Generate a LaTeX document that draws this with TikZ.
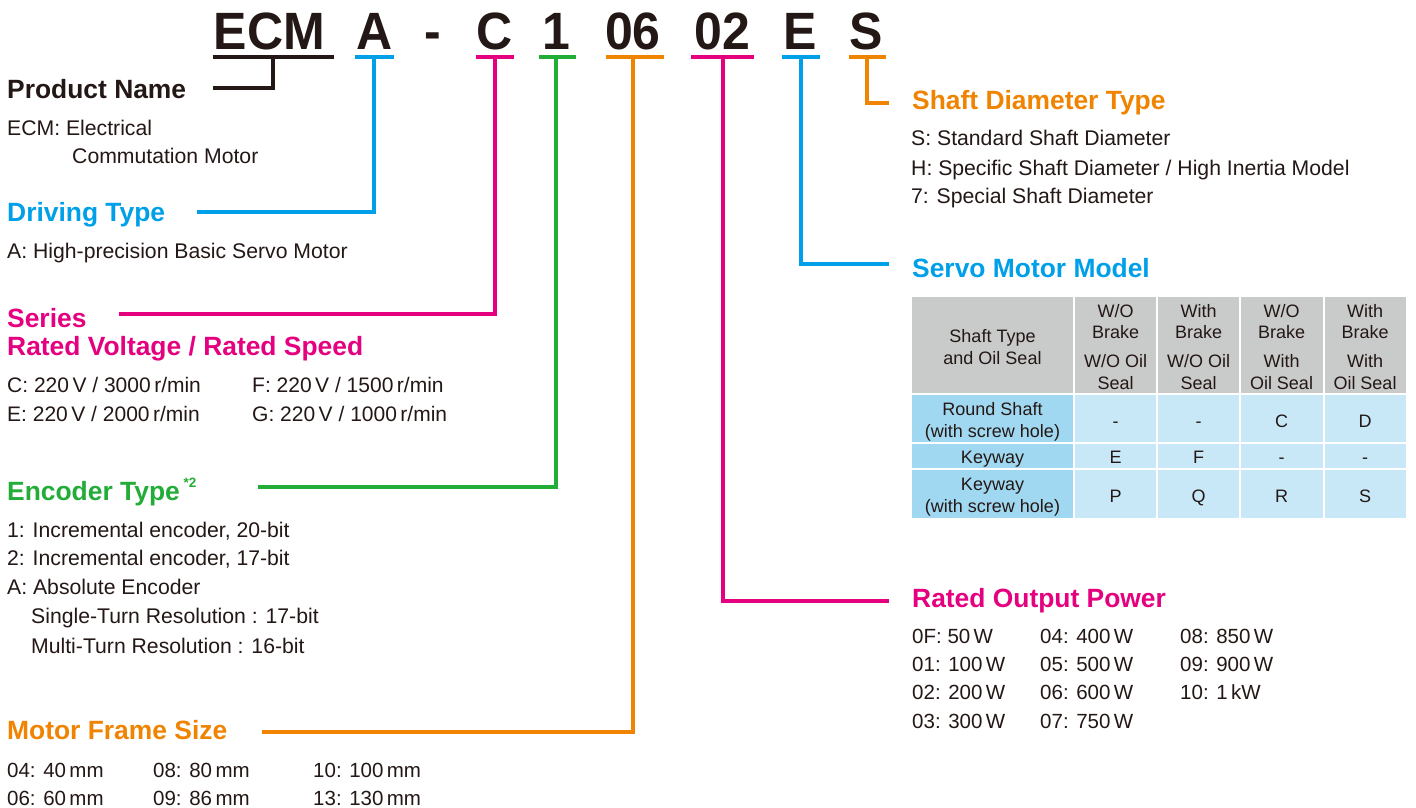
\documentclass[tikz,border=0pt]{standalone}
\usepackage{fontspec}
\setmainfont{Liberation Sans}
\definecolor{txt}{HTML}{231815}
\definecolor{cblue}{HTML}{00A0E9}
\definecolor{cmag}{HTML}{E4007F}
\definecolor{cgreen}{HTML}{22AC38}
\definecolor{corange}{HTML}{F08300}
\definecolor{tgray}{HTML}{C9CACA}
\definecolor{tblueA}{HTML}{A0D8F1}
\definecolor{tblueB}{HTML}{C8E8F8}
\begin{document}
\begin{tikzpicture}[x=1pt,y=-1pt,
  lbl/.style={anchor=base west,inner sep=0pt,text=txt,font=\fontsize{21.2}{24}\selectfont},
  num/.style={anchor=base west,inner sep=0pt,text=txt,font=\fontsize{20.5}{24}\selectfont},
  srl/.style={anchor=base west,inner sep=0pt,text=txt,font=\fontsize{21}{24}\selectfont},
  head/.style={anchor=base west,inner sep=0pt,font=\fontsize{26.4}{30}\selectfont\bfseries},
  code/.style={anchor=base,inner sep=0pt,text=txt,font=\fontsize{50}{60}\selectfont\bfseries,yscale=1.05},
  tt/.style={anchor=base,inner sep=0pt,text=txt,font=\fontsize{18}{21}\selectfont},
  lead/.style={line width=3.5pt},
  uline/.style={line width=4pt},
  cellbox/.style={draw=white,line width=2pt}
]
\useasboundingbox[fill=white] (0,0) rectangle (1416,808);

% ---------- code letters ----------
\node[code] (kECM) at (269.5,50) {ECM};
\node[code] (kA) at (375,50) {A};
\node[code] (kDash) at (433,50) {-};
\node[code] (kC) at (495,50) {C};
\node[code] (k1) at (556,50) {1};
\node[code] (k06) at (633,50) {06};
\node[code] (k02) at (722,50) {02};
\node[code] (kE) at (800,50) {E};
\node[code] (kS) at (866,50) {S};

% ---------- underlines ----------
\draw[uline,txt] (212.5,57) -- (334,57);
\draw[uline,cblue] (355,57) -- (394,57);
\draw[uline,cmag] (476,57) -- (514,57);
\draw[uline,cgreen] (539,57) -- (576,57);
\draw[uline,corange] (606,57) -- (664,57);
\draw[uline,cmag] (691,57) -- (754,57);
\draw[uline,cblue] (782,57) -- (820,57);
\draw[uline,corange] (849,57) -- (886,57);

% ---------- leader start points ----------
\coordinate (uECM) at (273,57);
\coordinate (uA) at (374,57);
\coordinate (uC) at (495,57);
\coordinate (u1) at (556,57);
\coordinate (u06) at (633,57);
\coordinate (u02) at (723,57);
\coordinate (uE) at (801,57);
\coordinate (uS) at (867,57);
% leader end points
\coordinate (ePN) at (213,88);
\coordinate (eDT) at (197,212);
\coordinate (eSR) at (119,314);
\coordinate (eEN) at (258,487);
\coordinate (eMF) at (262,732);
\coordinate (eRP) at (889,601);
\coordinate (eSM) at (889,264);
\coordinate (eSD) at (889,103);

\draw[lead,txt] (uECM) |- (ePN);
\draw[lead,cblue] (uA) |- (eDT);
\draw[lead,cmag] (uC) |- (eSR);
\draw[lead,cgreen] (u1) |- (eEN);
\draw[lead,corange] (u06) |- (eMF);
\draw[lead,cmag] (u02) |- (eRP);
\draw[lead,cblue] (uE) |- (eSM);
\draw[lead,corange] (uS) |- (eSD);

% ---------- left texts ----------
\node[head,text=txt] (pn) at (7,98) {Product Name};
\node[lbl] (pn1) at (7,135) {ECM: Electrical};
\node[lbl] (pn2) at (72,163) {Commutation Motor};

\node[head,text=cblue] (dt) at (7,221) {Driving Type};
\node[lbl] (dt1) at (7,258) {A: High-precision Basic Servo Motor};

\node[head,text=cmag] (sr) at (7,327) {Series};
\node[head,text=cmag] (rv) at (7,355) {Rated Voltage / Rated Speed};
\node[srl] (rv1) at (7,392) {C: 220\,V / 3000\,r/min};
\node[srl] (rv2) at (7,421) {E: 220\,V / 2000\,r/min};
\node[srl] (rv3) at (252,392) {F: 220\,V / 1500\,r/min};
\node[srl] (rv4) at (252,421) {G: 220\,V / 1000\,r/min};

\node[head,text=cgreen] (et) at (7,500) {Encoder Type};
\node[anchor=base west,inner sep=0pt,text=cgreen,font=\fontsize{13.5}{16}\selectfont\bfseries] (etsup) at (183.5,487) {*2};
\node[lbl] (et1) at (7,537) {1: Incremental encoder, 20-bit};
\node[lbl] (et2) at (7,565) {2: Incremental encoder, 17-bit};
\node[lbl] (et3) at (7,594) {A: Absolute Encoder};
\node[lbl] (et4) at (31,623) {Single-Turn Resolution : 17-bit};
\node[lbl] (et5) at (31,653) {Multi-Turn Resolution : 16-bit};

\node[head,text=corange] (mf) at (7,739) {Motor Frame Size};
\node[num] (mf1) at (7,777) {04: 40\,mm};
\node[num] (mf2) at (7,805) {06: 60\,mm};
\node[num] (mf3) at (153,777) {08: 80\,mm};
\node[num] (mf4) at (153,805) {09: 86\,mm};
\node[num] (mf5) at (313,777) {10: 100\,mm};
\node[num] (mf6) at (313,805) {13: 130\,mm};

% ---------- right texts ----------
\node[head,text=corange] (sd) at (912,110) {Shaft Diameter Type};
\node[lbl] (sd1) at (911,145) {S: Standard Shaft Diameter};
\node[lbl] (sd2) at (911,175) {H: Specific Shaft Diameter / High Inertia Model};
\node[lbl] (sd3) at (911,203) {7: Special Shaft Diameter};

\node[head,text=cblue] (sm) at (912,277) {Servo Motor Model};

\node[head,text=cmag] (rp) at (912,607) {Rated Output Power};
\node[num] (rp1) at (912,643) {0F: 50\,W};
\node[num] (rp2) at (912,671) {01: 100\,W};
\node[num] (rp3) at (912,699) {02: 200\,W};
\node[num] (rp4) at (912,728) {03: 300\,W};
\node[num] (rp5) at (1040,643) {04: 400\,W};
\node[num] (rp6) at (1040,671) {05: 500\,W};
\node[num] (rp7) at (1040,699) {06: 600\,W};
\node[num] (rp8) at (1040,728) {07: 750\,W};
\node[num] (rp9) at (1180,643) {08: 850\,W};
\node[num] (rp10) at (1180,671) {09: 900\,W};
\node[num] (rp11) at (1180,699) {10: 1\,kW};

% ---------- table ----------
\foreach \xa/\xb in {911/1074,1074/1157,1157/1240,1240/1323.5,1323.5/1407}
  \path[cellbox,fill=tgray] (\xa,296) rectangle (\xb,394);
\foreach \ya/\yb in {394/443,443/469,469/519}{
  \path[cellbox,fill=tblueA] (911,\ya) rectangle (1074,\yb);
  \foreach \xa/\xb in {1074/1157,1157/1240,1240/1323.5,1323.5/1407}
    \path[cellbox,fill=tblueB] (\xa,\ya) rectangle (\xb,\yb);
}
% header text
\node[tt] (h0a) at (992.5,342) {Shaft Type};
\node[tt] (h0b) at (992.5,364) {and Oil Seal};
\node[tt] (h1a) at (1115.5,317) {W/O};
\node[tt] (h1b) at (1115.5,338) {Brake};
\node[tt] (h1c) at (1115.5,367) {W/O Oil};
\node[tt] (h1d) at (1115.5,389) {Seal};
\node[tt] (h2a) at (1198.5,317) {With};
\node[tt] (h2b) at (1198.5,338) {Brake};
\node[tt] (h2c) at (1198.5,367) {W/O Oil};
\node[tt] (h2d) at (1198.5,389) {Seal};
\node[tt] (h3a) at (1281.5,317) {W/O};
\node[tt] (h3b) at (1281.5,338) {Brake};
\node[tt] (h3c) at (1281.5,367) {With};
\node[tt] (h3d) at (1281.5,389) {Oil Seal};
\node[tt] (h4a) at (1365,317) {With};
\node[tt] (h4b) at (1365,338) {Brake};
\node[tt] (h4c) at (1365,367) {With};
\node[tt] (h4d) at (1365,389) {Oil Seal};
% body
\node[tt] (r1a) at (992.5,415) {Round Shaft};
\node[tt] (r1b) at (992.5,437) {(with screw hole)};
\node[tt] (r1c1) at (1115.5,427) {-};
\node[tt] (r1c2) at (1198.5,427) {-};
\node[tt] (r1c3) at (1281.5,427) {C};
\node[tt] (r1c4) at (1365,427) {D};
\node[tt] (r2a) at (992.5,463) {Keyway};
\node[tt] (r2c1) at (1115.5,463) {E};
\node[tt] (r2c2) at (1198.5,463) {F};
\node[tt] (r2c3) at (1281.5,463) {-};
\node[tt] (r2c4) at (1365,463) {-};
\node[tt] (r3a) at (992.5,490) {Keyway};
\node[tt] (r3b) at (992.5,512) {(with screw hole)};
\node[tt] (r3c1) at (1115.5,502) {P};
\node[tt] (r3c2) at (1198.5,502) {Q};
\node[tt] (r3c3) at (1281.5,502) {R};
\node[tt] (r3c4) at (1365,502) {S};
\end{tikzpicture}
\end{document}
